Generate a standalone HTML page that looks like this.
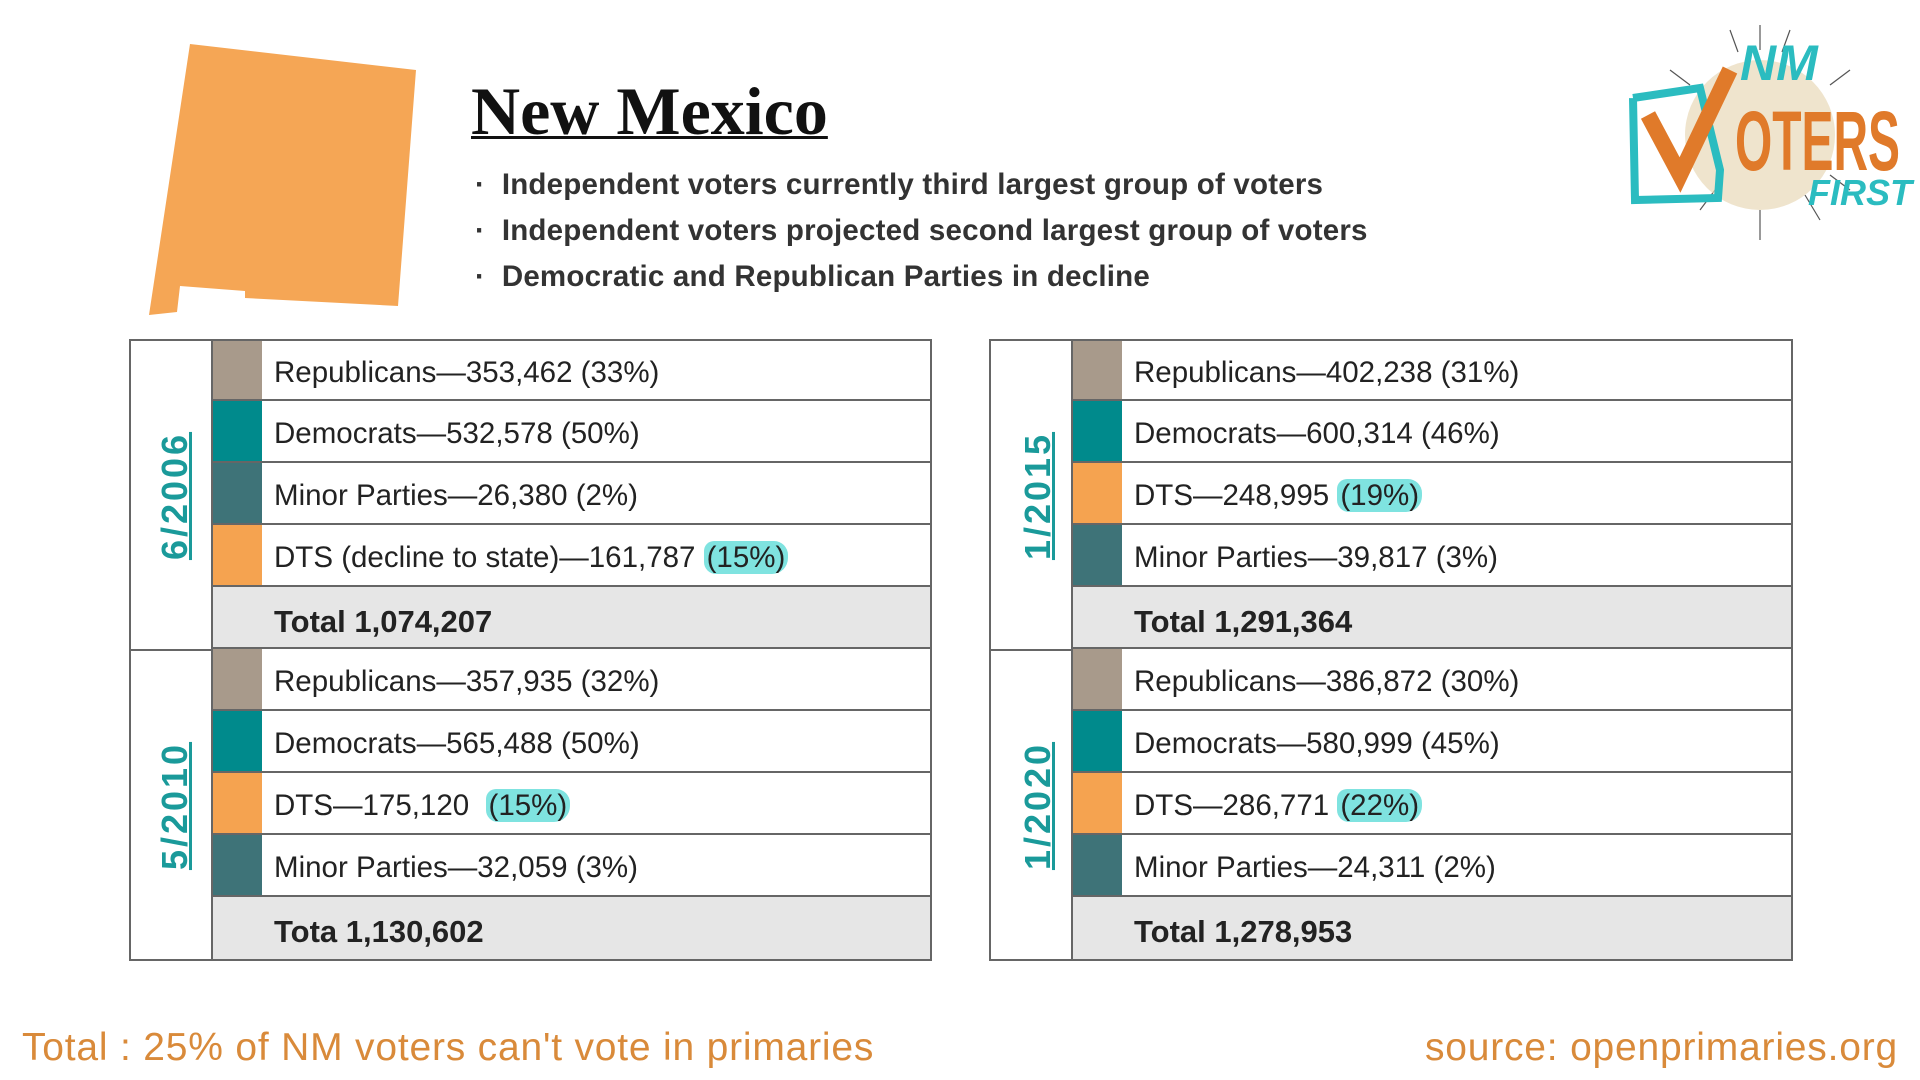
<!DOCTYPE html>
<html><head><meta charset="utf-8"><style>
body{margin:0;width:1920px;height:1080px;background:#fff;position:relative;overflow:hidden;font-family:"Liberation Sans",sans-serif}
.a{position:absolute}
.row{position:absolute;height:62px;box-sizing:border-box;border-bottom:2px solid #666;font-size:29.5px;color:#222;line-height:66px;padding-left:12px;white-space:nowrap;letter-spacing:0}
.tot{background:#e6e6e6;font-weight:bold;font-size:31px;line-height:70px}
.sw{position:absolute;width:49px;height:62px;box-sizing:border-box;border-bottom:2px solid #666}
.lab{position:absolute;color:#1a9a9a;font-weight:bold;font-size:36px;letter-spacing:3px;text-decoration:underline;transform:translate(-50%,-50%) rotate(-90deg);white-space:nowrap}
.hl{background:#7fe3e0;border-radius:10px 14px 16px 12px;padding:0 3px}
.bul{position:absolute;left:475px;font-size:29.5px;font-weight:bold;color:#333;white-space:nowrap;letter-spacing:0.2px}
</style></head><body>
<svg class="a" style="left:0;top:0" width="1920" height="1080">
<polygon points="190,44 416,70 398,306 245,298 245,291 180,286 177,312 149,315" fill="#f5a655"/>
<g transform="translate(1760,130)" stroke="#555" stroke-width="1.2">
<line x1="0" y1="-105" x2="0" y2="-80"/><line x1="0" y1="80" x2="0" y2="110"/><line x1="-90" y1="-60" x2="-70" y2="-45"/><line x1="90" y1="60" x2="70" y2="45"/><line x1="90" y1="-60" x2="70" y2="-45"/><line x1="-60" y1="80" x2="-45" y2="60"/><line x1="60" y1="90" x2="45" y2="65"/><line x1="-30" y1="-100" x2="-22" y2="-78"/><line x1="30" y1="-100" x2="22" y2="-78"/></g>
<circle cx="1760" cy="135" r="75" fill="#e8d8b8" opacity="0.7"/>
<polyline points="1633,98 1700,88 1720,170 1718,198 1635,200 1633,98" fill="none" stroke="#2bbcc0" stroke-width="8"/>
<polyline points="1648,115 1680,175 1730,70" fill="none" stroke="#e07a2a" stroke-width="16"/>
<text x="1735" y="170" font-family="Liberation Sans Narrow,Liberation Sans,sans-serif" font-weight="bold" font-size="84" fill="#e07a2a" textLength="165" lengthAdjust="spacingAndGlyphs">OTERS</text>
<text x="1740" y="80" font-family="Liberation Sans" font-style="italic" font-weight="bold" font-size="50" fill="#2bbcc0">NM</text>
<text x="1808" y="205" font-family="Liberation Sans" font-style="italic" font-weight="bold" font-size="36" fill="#2bbcc0">FIRST</text>
</svg>
<div class="a" style="left:471px;top:72px;font-family:'Liberation Serif',serif;font-weight:bold;font-size:68px;color:#111;text-decoration:underline;text-decoration-thickness:3px">New Mexico</div>
<div class="bul" style="top:168px">·&nbsp; Independent voters currently third largest group of voters</div>
<div class="bul" style="top:214px">·&nbsp; Independent voters projected second largest group of voters</div>
<div class="bul" style="top:260px">·&nbsp; Democratic and Republican Parties in decline</div>

<div class="a" style="left:129px;top:339px;width:803px;height:622px;border:2px solid #666;box-sizing:border-box"></div>
<div class="a" style="left:129px;top:649px;width:84px;height:2px;background:#666"></div>
<div class="a" style="left:211px;top:339px;width:2px;height:622px;background:#666"></div>
<div class="a" style="left:260px;top:339px;width:2px;height:622px;background:#666"></div>
<div class="a" style="left:989px;top:339px;width:804px;height:622px;border:2px solid #666;box-sizing:border-box"></div>
<div class="a" style="left:989px;top:649px;width:84px;height:2px;background:#666"></div>
<div class="a" style="left:1071px;top:339px;width:2px;height:622px;background:#666"></div>
<div class="a" style="left:1120px;top:339px;width:2px;height:622px;background:#666"></div>

<div class="lab" style="left:175px;top:496px">6/2006</div>
<div class="lab" style="left:175px;top:806px">5/2010</div>
<div class="lab" style="left:1038px;top:496px">1/2015</div>
<div class="lab" style="left:1038px;top:806px">1/2020</div>

<div class="sw" style="left:213px;top:341px;height:60px;background:#a89a8b"></div>
<div class="sw" style="left:213px;top:401px;background:#008a8c"></div>
<div class="sw" style="left:213px;top:463px;background:#3e7378"></div>
<div class="sw" style="left:213px;top:525px;background:#f5a350"></div>
<div class="sw" style="left:213px;top:587px;background:#e6e6e6"></div>
<div class="sw" style="left:213px;top:649px;background:#a89a8b"></div>
<div class="sw" style="left:213px;top:711px;background:#008a8c"></div>
<div class="sw" style="left:213px;top:773px;background:#f5a350"></div>
<div class="sw" style="left:213px;top:835px;background:#3e7378"></div>
<div class="sw" style="left:213px;top:897px;height:62px;background:#e6e6e6;border:0"></div>
<div class="sw" style="left:1073px;top:341px;height:60px;background:#a89a8b"></div>
<div class="sw" style="left:1073px;top:401px;background:#008a8c"></div>
<div class="sw" style="left:1073px;top:463px;background:#f5a350"></div>
<div class="sw" style="left:1073px;top:525px;background:#3e7378"></div>
<div class="sw" style="left:1073px;top:587px;background:#e6e6e6"></div>
<div class="sw" style="left:1073px;top:649px;background:#a89a8b"></div>
<div class="sw" style="left:1073px;top:711px;background:#008a8c"></div>
<div class="sw" style="left:1073px;top:773px;background:#f5a350"></div>
<div class="sw" style="left:1073px;top:835px;background:#3e7378"></div>
<div class="sw" style="left:1073px;top:897px;height:62px;background:#e6e6e6;border:0"></div>

<div class="row" style="left:262px;top:341px;width:668px;height:60px;line-height:64px">Republicans—353,462 (33%)</div>
<div class="row" style="left:262px;top:401px;width:668px">Democrats—532,578 (50%)</div>
<div class="row" style="left:262px;top:463px;width:668px">Minor Parties—26,380 (2%)</div>
<div class="row" style="left:262px;top:525px;width:668px">DTS (decline to state)—161,787 <span class="hl">(15%)</span></div>
<div class="row tot" style="left:262px;top:587px;width:668px">Total 1,074,207</div>
<div class="row" style="left:262px;top:649px;width:668px">Republicans—357,935 (32%)</div>
<div class="row" style="left:262px;top:711px;width:668px">Democrats—565,488 (50%)</div>
<div class="row" style="left:262px;top:773px;width:668px">DTS—175,120 &nbsp;<span class="hl">(15%)</span></div>
<div class="row" style="left:262px;top:835px;width:668px">Minor Parties—32,059 (3%)</div>
<div class="row tot" style="left:262px;top:897px;width:668px;border:0">Tota 1,130,602</div>
<div class="row" style="left:1122px;top:341px;width:669px;height:60px;line-height:64px">Republicans—402,238 (31%)</div>
<div class="row" style="left:1122px;top:401px;width:669px">Democrats—600,314 (46%)</div>
<div class="row" style="left:1122px;top:463px;width:669px">DTS—248,995 <span class="hl">(19%)</span></div>
<div class="row" style="left:1122px;top:525px;width:669px">Minor Parties—39,817 (3%)</div>
<div class="row tot" style="left:1122px;top:587px;width:669px">Total 1,291,364</div>
<div class="row" style="left:1122px;top:649px;width:669px">Republicans—386,872 (30%)</div>
<div class="row" style="left:1122px;top:711px;width:669px">Democrats—580,999 (45%)</div>
<div class="row" style="left:1122px;top:773px;width:669px">DTS—286,771 <span class="hl">(22%)</span></div>
<div class="row" style="left:1122px;top:835px;width:669px">Minor Parties—24,311 (2%)</div>
<div class="row tot" style="left:1122px;top:897px;width:669px;border:0">Total 1,278,953</div>

<div class="a" style="left:22px;top:1026px;font-size:39px;letter-spacing:0.8px;color:#d98a3a;white-space:nowrap">Total : 25% of NM voters can't vote in primaries</div>
<div class="a" style="right:22px;top:1026px;font-size:39px;letter-spacing:0.8px;color:#d98a3a;white-space:nowrap">source: openprimaries.org</div>
</body></html>
